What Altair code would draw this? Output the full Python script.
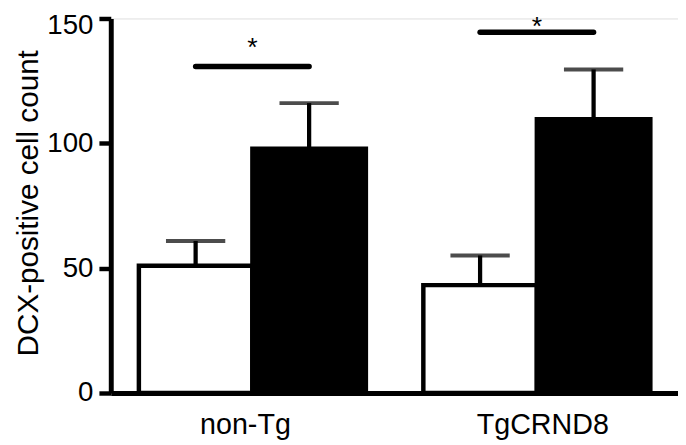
import altair as alt
import pandas as pd

# ---- data ----
groups = ["non-Tg", "non-Tg", "TgCRND8", "TgCRND8"]
conditions = ["control", "treated", "control", "treated"]
means = [51.0, 97.8, 43.2, 109.7]
sems = [9.9, 18.3, 11.9, 19.9]

sig_groups = ["non-Tg", "TgCRND8"]
sig_levels = [130.8, 144.5]
star_levels = [140.0, 148.4]
sig_marks = ["*", "*"]

bars = pd.DataFrame({
    "group": groups,
    "cond": conditions,
    "mean": means,
    "upper": [m + s for m, s in zip(means, sems)],
})

sig_rows = []
for g, lv in zip(sig_groups, sig_levels):
    for c in ["control", "treated"]:
        sig_rows.append({"group": g, "cond": c, "level": lv})
sig_lines = pd.DataFrame(sig_rows)
sig_text = pd.DataFrame({"group": sig_groups, "level": star_levels, "label": sig_marks})

FONT = "Liberation Sans"
group_order = ["non-Tg", "TgCRND8"]
cond_order = ["control", "treated"]

x_enc = alt.X("group:N", sort=group_order,
              scale=alt.Scale(paddingInner=0.202, paddingOuter=0.098, align=0.504),
              axis=alt.Axis(title=None, labelAngle=0, ticks=False, tickSize=0,
                            labelFontSize=29, labelFont=FONT, labelColor="black",
                            labelPadding=18, domainColor="black", domainWidth=5,
                            labelOffset={"condition": {"test": "datum.value == 'non-Tg'", "value": -7},
                                         "value": 6}))
xo_enc = alt.XOffset("cond:N", sort=cond_order, scale=alt.Scale(paddingInner=0, paddingOuter=0))
y_scale = alt.Scale(domain=[0, 150], nice=False, zero=True)

bar_layer = alt.Chart(bars).mark_bar(stroke="black", strokeWidth=4.5, strokeJoin="miter").encode(
    x=x_enc,
    xOffset=xo_enc,
    y=alt.Y("mean:Q", scale=y_scale,
            axis=alt.Axis(title="DCX-positive cell count", values=[0, 50, 100, 150],
                          grid=False, tickSize=12, tickWidth=4.5, tickColor="black",
                          domainColor="black", domainWidth=5,
                          labelFontSize=28, labelFont=FONT, labelColor="black",
                          labelPadding=6,
                          labelOffset={"condition": {"test": "datum.value == 150", "value": 7},
                                       "value": 0},
                          titleFontSize=30, titleFont=FONT,
                          titleFontWeight="normal", titleColor="black",
                          titleX=-68, titleY=186.5)),
    color=alt.Color("cond:N", sort=cond_order,
                    scale=alt.Scale(domain=cond_order, range=["white", "black"]),
                    legend=None),
)

stem_layer = alt.Chart(bars).mark_rule(color="black", strokeWidth=4.3).encode(
    x=alt.X("group:N", sort=group_order),
    xOffset=alt.XOffset("cond:N", sort=cond_order),
    y="mean:Q",
    y2="upper:Q",
)

cap_layer = alt.Chart(bars).mark_tick(color="black", thickness=4, size=60, orient="horizontal").encode(
    x=alt.X("group:N", sort=group_order),
    xOffset=alt.XOffset("cond:N", sort=cond_order),
    y="upper:Q",
)

sig_layer = alt.Chart(sig_lines).mark_line(color="black", strokeWidth=5.5, strokeCap="round").encode(
    x=alt.X("group:N", sort=group_order),
    xOffset=alt.XOffset("cond:N", sort=cond_order),
    y="level:Q",
    detail="group:N",
)

star_layer = alt.Chart(sig_text).mark_text(font=FONT, fontSize=27, color="black",
                                           baseline="alphabetic", dy=13).encode(
    x=alt.X("group:N", sort=group_order),
    y="level:Q",
    text="label:N",
)

chart = alt.layer(bar_layer, stem_layer, cap_layer, sig_layer, star_layer).properties(
    width=574,
    height=379,
    autosize=alt.AutoSizeParams(type="none"),
    padding={"left": 104, "top": 8, "right": 0, "bottom": 50},
).configure_view(stroke=None).configure(background="white")

chart.save("out.html", embed_options={"renderer": "svg", "actions": False})
